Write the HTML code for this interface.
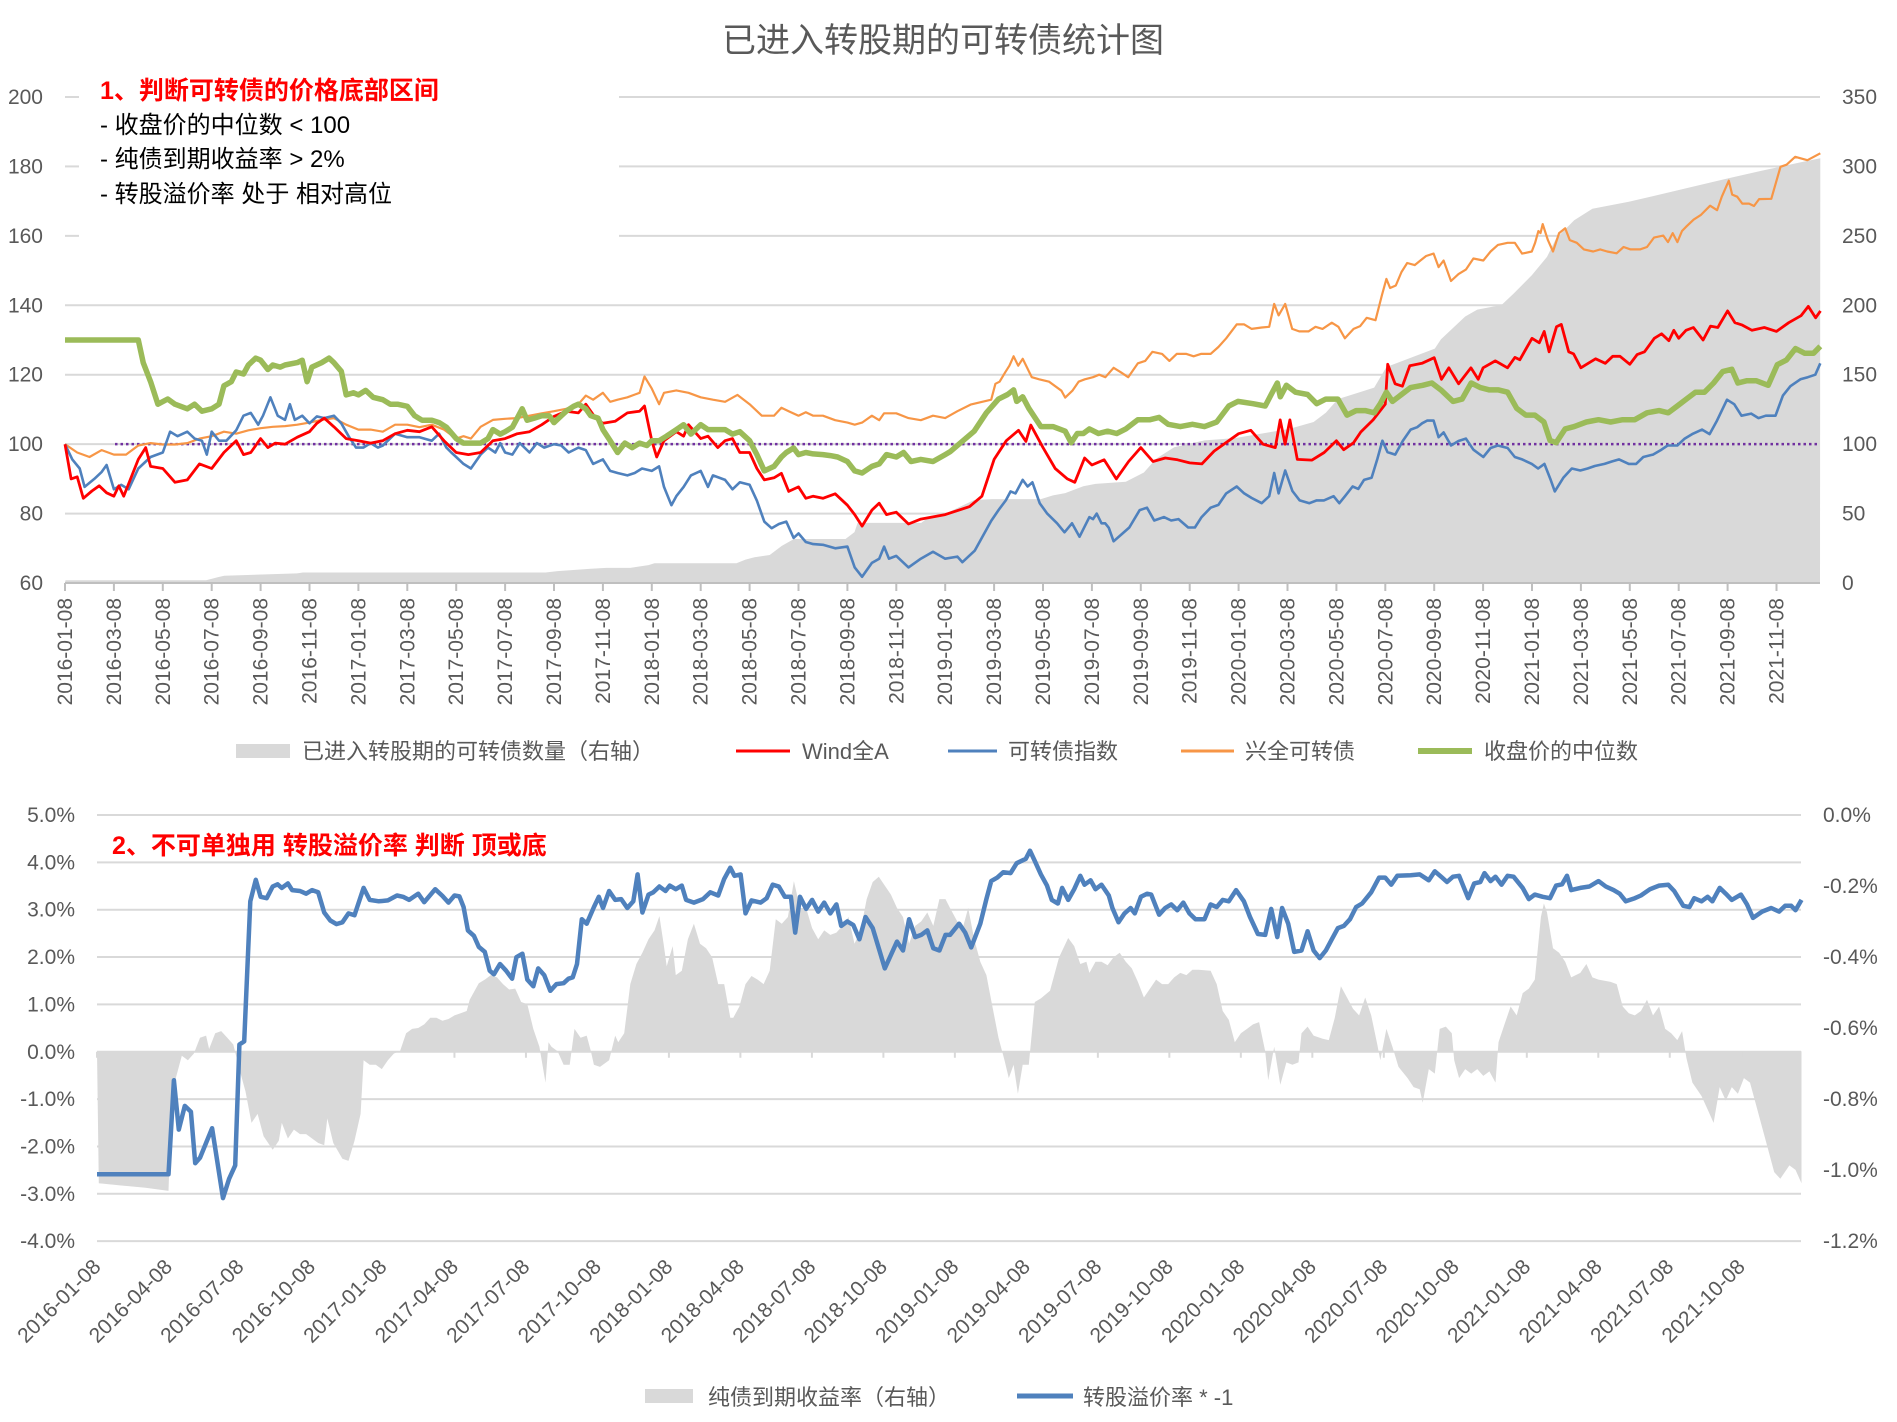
<!DOCTYPE html>
<html><head><meta charset="utf-8">
<style>
html,body{margin:0;padding:0;background:#fff;}
svg{display:block;}
text{font-family:"Liberation Sans","Noto Sans CJK SC",sans-serif;}
</style></head>
<body>
<svg id="s" xmlns="http://www.w3.org/2000/svg" width="1897" height="1422" viewBox="0 0 1897 1422">
<rect width="1897" height="1422" fill="#fff"/>
<g id="g"></g>
</svg>
<script>
const NS="http://www.w3.org/2000/svg";
const G=document.getElementById('g');
function el(t,a,txt){const e=document.createElementNS(NS,t);for(const k in a)e.setAttribute(k,a[k]);if(txt!==undefined)e.textContent=txt;G.appendChild(e);return e;}
const TX=m=>65+m*24.45, TY=v=>583-(v-60)*3.471;
function interp(anch,pm){for(let i=0;i<anch.length-1;i++){const a=anch[i],b=anch[i+1];if(pm<=b[0]||i==anch.length-2){const t=(pm-a[0])/(b[0]-a[0]);return a[1]+t*(b[1]-a[1]);}}}
function pathOf(pts){return pts.map((p,i)=>(i?'L':'M')+p[0].toFixed(1)+' '+p[1].toFixed(1)).join(' ');}
function joinPts(L,R){const lx=L[L.length-1][0];return L.concat(R.filter(p=>p[0]>lx));}

// ===== TOP CHART =====
// gridlines
for(let k=0;k<=7;k++){const y=583-k*69.43;
  if(k==0) continue;
  if(k>=5){el('line',{x1:65,y1:y,x2:79,y2:y,stroke:'#d9d9d9','stroke-width':2});el('line',{x1:619,y1:y,x2:1820,y2:y,stroke:'#d9d9d9','stroke-width':2});}
  else el('line',{x1:65,y1:y,x2:1820,y2:y,stroke:'#d9d9d9','stroke-width':2});
}
// grey area
const ga1=[[108,1265],[340,1265],[360,1258],[370,1255],[490,1250],[500,1248],[900,1248],[920,1245],[975,1240],[1000,1238],[1040,1238],[1070,1232],[1080,1228],[1215,1228],[1230,1220],[1245,1215],[1270,1210],[1290,1190],[1310,1175],[1395,1175],[1410,1160],[1415,1140],[1520,1140],[1530,1130],[1568,1120]].map(p=>[p[0]/1.65,p[1]/2.18]);
const ga2=[[0,1115],[40,1090],[70,1088],[150,1088],[170,1080],[190,1075],[220,1060],[240,1055],[290,1050],[320,1030],[340,1000],[370,975],[420,960],[470,955],[560,935],[600,920],[620,900],[640,870],[700,845],[720,800],[800,760],[810,740],[850,690],[870,675],[910,665],[930,640],[960,600],[985,560],[1000,520],[1030,480],[1060,455],[1120,440],[1200,415],[1280,390],[1340,372],[1400,355],[1436,345]].map(p=>[950+p[0]/1.65,p[1]/2.18]);
let ga=ga1.concat(ga2);ga.push([1820,582.6]);ga.push([65,582.6]);
el('path',{d:pathOf(ga)+' Z',fill:'#d9d9d9'});
// axis line & ticks
el('line',{x1:65,y1:583,x2:1820,y2:583,stroke:'#bfbfbf','stroke-width':2});
const mlab=['01','03','05','07','09','11'];
for(let i=0;i<36;i++){const m=i*2,x=TX(m);const yr=2016+Math.floor(m/12);const lab=yr+'-'+mlab[(m%12)/2]+'-08';
  el('line',{x1:x,y1:583,x2:x,y2:591,stroke:'#bfbfbf','stroke-width':2});
  el('text',{transform:`translate(${x+7},598) rotate(-90)`,'text-anchor':'end','font-size':21,fill:'#595959'},lab);
}
// y labels
for(let k=0;k<=7;k++){const y=583-k*69.43;
  el('text',{x:43,y:y+7,'text-anchor':'end','font-size':21,fill:'#595959'},String(60+k*20));
  el('text',{x:1842,y:y+7,'text-anchor':'start','font-size':21,fill:'#595959'},String(k*50));
}
// purple dotted 100
el('line',{x1:115,y1:TY(100),x2:1820,y2:TY(100),stroke:'#7030a0','stroke-width':2.5,'stroke-dasharray':'2.5 3'});

// orange
const orL=[[0,100],[0.5,97.6],[1,96.3],[1.5,98.3],[2,97],[2.5,97],[3,99.6],[3.5,100.3],[4,99.9],[4.5,99.9],[5,100.3],[5.5,101.6],[6,102.3],[6.5,103.6],[7,103],[7.5,104],[8,104.6],[8.5,105],[9,105.2],[9.5,105.6],[10,106.2],[10.5,107],[11,107.5],[11.5,105.6],[12,104.2],[12.5,104.2],[13,103.6],[13.5,105.6],[14,105.6],[14.5,104.9],[15,105.6],[15.5,104.2],[16,101.6],[16.3,102.3],[16.6,101.6],[17,105],[17.5,107],[18,107.3],[18.5,107.5],[19,108.2],[19.5,108.9],[20,109.5],[20.5,110.2],[21,111.5],[21.3,114],[21.6,112.8],[22,114.8],[22.3,112.2],[22.6,112.8],[23,113.5],[23.5,114.8],[23.7,119.5],[24,116],[24.3,111.5],[24.5,114.8],[25,115.5],[25.5,114.8],[26,113.5],[26.5,112.8],[27,112.2],[27.5,114.2],[28,111.5],[28.5,108.2],[29,108.2],[29.3,110.5],[29.6,109.5],[30,108.2],[30.3,109.2],[30.6,108.2],[31,108.2],[31.5,106.9],[32,106.2],[32.3,105.6],[32.6,106.2],[33,108.2],[33.3,106.9],[33.5,108.9],[34,108.9],[34.5,107.5],[35,106.9],[35.5,108.2],[36,107.5],[36.5,109.5]].map(p=>[TX(p[0]),TY(p[1])]);
const orA=[[37,0],[38,68],[39.6,105],[40,120],[40.3,135],[41.65,190],[44,270],[48,430],[49,473],[50.5,535],[51,553],[53,630],[55.5,720],[58,798],[60,880],[62,960],[63,978],[63.4,995],[63.8,1015],[70.8,1285],[72.6,1335],[73.6,1436]];
const orR=[[37,109.5],[37.5,111.4],[38,112.8],[38.3,117.4],[38.6,118],[39,120.7],[39.3,122.6],[39.6,125.3],[39.8,122.6],[40,124.6],[40.3,119.3],[40.6,118.7],[41,118],[41.5,115.4],[41.65,113.4],[42,115.4],[42.3,118],[42.6,118.7],[43,119.3],[43.3,120],[43.6,119.3],[44,122],[44.3,120.7],[44.6,119.3],[45,123.3],[45.3,124],[45.6,126.6],[46,126],[46.3,124],[46.6,126],[47,126],[47.3,125.3],[47.6,126],[48,126],[48.3,128],[48.6,130.5],[49,134.5],[49.3,134.5],[49.6,133.2],[50,133.6],[50.3,133.8],[50.5,140.4],[50.7,137.1],[51,140.4],[51.3,133.2],[51.6,132.5],[52,132.5],[52.3,133.8],[52.6,133.2],[53,135],[53.3,133.8],[53.6,130.5],[54,133.2],[54.3,134],[54.6,136.4],[55,135.7],[55.3,143],[55.5,147.6],[55.7,145],[56,145.7],[56.3,149.6],[56.6,152.2],[57,151.6],[57.3,152.9],[57.6,154.2],[58,154.9],[58.2,151],[58.4,152.9],[58.7,147],[59,149],[59.3,150.3],[59.6,153.5],[60,152.9],[60.3,155.5],[60.6,157.4],[61,158],[61.3,158],[61.6,154.9],[62,155.5],[62.3,158],[62.6,161.4],[62.8,160.8],[63,163.4],[63.2,158.8],[63.4,155.5],[63.6,160.8],[63.8,162.2],[64,158.8],[64.3,158],[64.6,156.1],[65,155.5],[65.3,156.1],[65.6,155.5],[66,155],[66.3,156.8],[66.6,156.1],[67,156.1],[67.3,156.8],[67.6,159.5],[68,160.1],[68.2,158.2],[68.4,160.8],[68.6,158.2],[68.8,161.4],[69,162.8],[69.3,164.7],[69.6,166],[70,168.7],[70.3,167.4],[70.5,171.3],[70.8,175.9],[71,171.9],[71.3,171.3],[71.6,169.3],[72,169.3],[72.3,168.6],[72.6,170.6],[72.8,170.7],[72.95,179.9],[73.05,180.5],[73.19,182.8],[73.39,181.8],[73.6,183.8]].map(p=>[950+interp(orA,p[0])/1.65,TY(p[1])]);
el('path',{d:pathOf(joinPts(orL,orR)),fill:'none',stroke:'#f79646','stroke-width':2.2,'stroke-linejoin':'round'});

// blue
const blL=[[0,100],[0.3,95.6],[0.6,93],[0.8,87.7],[1.2,90],[1.5,92],[1.7,94],[2,87],[2.3,88.3],[2.6,87],[3,93],[3.5,96.3],[4,97.6],[4.3,103.6],[4.6,102.3],[5,103.6],[5.3,101.6],[5.6,101],[5.8,97],[6,103.6],[6.3,101],[6.6,101],[7,104],[7.3,108.2],[7.6,109],[7.9,105.6],[8.1,108.2],[8.4,113.5],[8.7,108.2],[9,107],[9.2,111.5],[9.4,107],[9.7,108.2],[10,106],[10.3,108],[10.6,107.5],[11,108.2],[11.3,106],[11.6,102.3],[11.9,99],[12.2,99],[12.5,100.3],[12.8,99],[13,99.6],[13.5,103],[14,102],[14.5,102],[15,101],[15.3,103],[15.6,99],[15.8,97.6],[16,96.3],[16.3,94.3],[16.6,93],[17,97],[17.3,99],[17.6,97.6],[17.8,100.3],[18,97.6],[18.3,97],[18.6,100.3],[19,97.6],[19.3,100.3],[19.6,99],[20,100],[20.3,99.6],[20.6,97.6],[21,99],[21.3,98.3],[21.6,94.3],[22,95.6],[22.3,92.3],[22.6,91.7],[23,91],[23.3,91.7],[23.6,93],[24,92.3],[24.3,93.6],[24.5,87.7],[24.8,82.4],[25,85],[25.3,87.7],[25.6,91],[26,92.3],[26.3,87.7],[26.5,91],[27,89.7],[27.3,87],[27.6,89],[28,88.3],[28.3,83.7],[28.6,77.7],[28.9,75.8],[29.2,77],[29.5,77.7],[29.8,73],[30,74.3],[30.3,71.8],[30.6,71.2],[31,71],[31.5,70],[32,70.5],[32.3,64.5],[32.6,61.8],[33,65.8],[33.3,67],[33.5,70.5],[33.7,67],[34,67.8],[34.5,64.5],[35,67],[35.5,69],[36,67],[36.5,67.6]].map(p=>[TX(p[0]),TY(p[1])]);
const blA=[[37,0],[38,68],[39.3,120],[40,148],[42,230],[44,270],[45,313],[47,393],[48,430],[49,473],[50.5,535],[51,553],[53,633],[55.3,705],[56.6,760],[58,798],[60,880],[62,960],[63.1,998],[64,1040],[66,1120],[68,1200],[70,1282],[72,1362],[73.8,1436]];
const blR=[[37,67.4],[37.3,66],[37.6,69.3],[38,77.9],[38.3,81],[38.6,83.8],[38.8,86.4],[39,85.8],[39.3,89.7],[39.5,87.8],[39.7,89],[40,83],[40.3,80],[40.7,77.2],[41,74.6],[41.3,77.2],[41.6,73.3],[42,79],[42.3,78.4],[42.6,80],[43,77.2],[43.3,77.2],[43.6,75.9],[44,72],[44.3,74],[44.6,76],[45,81],[45.3,81.7],[45.6,78],[46,79],[46.3,78],[46.6,78.4],[47,76],[47.3,76],[47.6,79],[48,81.7],[48.3,82.5],[48.6,85.8],[49,87.8],[49.3,85.8],[49.6,84.5],[50,83],[50.3,85],[50.5,91.7],[50.7,85.8],[51,92.4],[51.3,86.5],[51.6,83.8],[52,83],[52.3,83.8],[52.6,83.8],[53,85],[53.3,83],[53.6,85],[54,87.8],[54.3,87.1],[54.6,89.7],[55,90.3],[55.3,95.7],[55.5,101],[55.7,97.7],[56,97],[56.3,101],[56.6,104.2],[57,104.9],[57.3,106],[57.6,106.8],[58,106.8],[58.2,102],[58.4,103.4],[58.7,99.6],[59,100.9],[59.3,101.6],[59.6,98.4],[60,96.3],[60.3,98.9],[60.6,99.6],[61,98.9],[61.3,96.3],[61.6,95.6],[62,94.3],[62.3,93],[62.6,94.3],[62.9,89.7],[63.1,86.4],[63.4,90.3],[63.7,93],[64,92.4],[64.3,93],[64.6,93.7],[65,94.3],[65.3,95],[65.6,95.6],[66,94.3],[66.3,94.3],[66.6,96.3],[67,97],[67.3,98.2],[67.6,99.6],[68,99.6],[68.3,101.6],[68.6,102.9],[69,104.2],[69.3,102.9],[69.6,106.8],[70,112.8],[70.3,111.5],[70.6,108.2],[71,108.8],[71.3,107.5],[71.6,108.2],[72,108.2],[72.3,114],[72.6,116.7],[73,118.7],[73.3,119.3],[73.6,120],[73.8,123.3]].map(p=>[950+interp(blA,p[0])/1.65,TY(p[1])]);
el('path',{d:pathOf(joinPts(blL,blR)),fill:'none',stroke:'#4f81bd','stroke-width':2.6,'stroke-linejoin':'round'});

// red
const rd=[[0,100],[0.25,90],[0.5,90.6],[0.75,84.4],[1.1,86.5],[1.4,88],[1.7,86],[2,85],[2.2,88],[2.4,85],[3,95.6],[3.3,99],[3.5,93.6],[4,93],[4.5,89],[5,89.7],[5.5,94.3],[6,93],[6.5,97.6],[7,101],[7.3,97],[7.6,97.6],[8,101.6],[8.3,99],[8.6,100.3],[9,100],[9.5,102],[10,103.6],[10.3,106],[10.6,107.5],[11,105],[11.5,101.6],[12,101],[12.5,100.3],[13,101],[13.5,103],[14,104],[14.5,103.6],[15,105],[15.5,101],[16,97.6],[16.5,97],[17,97.6],[17.5,101],[18,101.6],[18.5,103],[19,103.6],[19.5,105.6],[20,108],[20.5,109.5],[21,109],[21.3,111.5],[21.7,107.5],[22,106],[22.5,106.6],[23,109],[23.5,109.5],[23.7,111],[24,101],[24.2,96.3],[24.5,101],[25,103.6],[25.3,102.3],[25.5,105.6],[26,101.6],[26.3,102.3],[26.7,99],[27,101],[27.3,101.6],[27.6,97.6],[28,97.6],[28.3,93],[28.6,89.7],[29,90.3],[29.3,91.6],[29.6,86.4],[30,87.7],[30.3,84.4],[30.6,85],[31,84.4],[31.5,85.7],[32,82.4],[32.3,79.7],[32.6,76.4],[33,81],[33.3,83],[33.6,79.7],[34,80.4],[34.5,77],[35,78.4],[36,79.7],[37,82],[37.5,85],
[38,95.6],[38.5,101],[39,104],[39.3,100.8],[39.5,105.5],[40,99],[40.5,93],[41,90],[41.3,89],[41.7,96],[42,94],[42.5,95.5],[43,90],[43.5,95],[44,99],[44.5,95],[45,96],[45.5,95.5],[46,94.6],[46.5,94.3],[47,98],[48,103],[48.5,104],[49,100],[49.5,99],[49.7,107],[49.9,100],[50.1,107],[50.4,95.6],[51,95.4],[51.5,97.6],[52,101],[52.3,98.4],[52.7,100.4],[53,103.5],[53.5,107],[54,111.5],[54.1,123],[54.4,117.4],[54.7,116.7],[55,122.6],[55.5,123.3],[56,124.9],[56.3,118.7],[56.6,122],[57,117.4],[57.5,122],[57.8,118.7],[58,122],[58.5,124],[59,122],[59.3,125],[59.5,124.3],[60,130.5],[60.3,129.2],[60.5,132.5],[60.7,126.6],[61,133.8],[61.2,134.5],[61.5,126.6],[61.7,126],[62,122],[62.3,123.3],[62.6,124.6],[63,123.3],[63.3,125.3],[63.6,125.3],[64,123],[64.3,125.8],[64.6,126.6],[65,130.5],[65.3,131.8],[65.6,129.8],[65.8,132.8],[66,130.5],[66.3,132.8],[66.6,133.6],[67,130],[67.3,134],[67.6,133.6],[68,138.4],[68.3,135],[68.6,134.3],[69,132.8],[69.5,133.6],[70,132.5],[70.5,135],[71,137],[71.3,139.7],[71.6,136.4],[71.8,138.4]].map(p=>[TX(p[0]),TY(p[1])]);
el('path',{d:pathOf(rd),fill:'none',stroke:'#ff0000','stroke-width':2.8,'stroke-linejoin':'round'});

// green
const grL=[[0,130],[3,130],[3.2,123.5],[3.5,118],[3.8,111.5],[4.2,113],[4.5,111.5],[5,110.2],[5.3,111.5],[5.6,109.5],[6,110.2],[6.3,111.5],[6.5,116.8],[6.8,118],[7,120.8],[7.3,120.2],[7.5,122.8],[7.8,124.8],[8,124.2],[8.3,121.5],[8.5,122.8],[8.8,122.2],[9,122.8],[9.5,123.5],[9.7,124.2],[9.9,118],[10.1,122.2],[10.5,123.5],[10.8,124.8],[11,123.5],[11.3,121],[11.5,114.2],[11.8,114.8],[12,114.2],[12.3,115.5],[12.6,113.5],[13,112.8],[13.3,111.5],[13.6,111.5],[14,110.9],[14.3,108.2],[14.6,106.9],[15,106.9],[15.3,106.2],[15.6,104.9],[16,101.6],[16.3,100.3],[16.6,100.3],[17,100.3],[17.3,101.6],[17.5,104.2],[17.8,102.9],[18,103.6],[18.3,104.9],[18.5,107.5],[18.7,110.2],[18.9,106.9],[19.2,107.5],[19.5,108.2],[19.8,108.2],[20,106.2],[20.3,108.2],[20.5,109.5],[20.8,110.9],[21,111.5],[21.3,110.2],[21.5,108.2],[21.8,107.5],[22,104.2],[22.3,101],[22.6,97.6],[22.9,100.3],[23.2,99],[23.5,100.3],[23.8,99.6],[24,101],[24.3,101],[24.6,102.3],[25,104.2],[25.3,105.6],[25.6,102.9],[26,105.6],[26.3,104.2],[26.6,104.2],[27,104.2],[27.3,102.9],[27.6,103.6],[28,101],[28.3,97],[28.6,92.3],[29,93.6],[29.3,96.3],[29.5,97.6],[29.8,98.9],[30,97],[30.3,97.6],[30.6,97.2],[31,97],[31.3,96.7],[31.6,96.3],[32,95],[32.3,92.3],[32.6,91.7],[33,93.6],[33.3,94.3],[33.6,97],[34,96.3],[34.3,97.6],[34.6,95],[35,95.6],[35.5,95],[36,97]].map(p=>[TX(p[0]),TY(p[1])]);
const grR=[[0,985],[40,940],[60,900],[80,870],[95,860],[105,850],[110,875],[120,865],[130,890],[150,930],[170,930],[190,940],[200,965],[210,945],[220,945],[230,935],[245,945],[260,940],[275,945],[290,935],[310,915],[330,915],[345,910],[360,925],[380,930],[400,925],[420,930],[440,920],[460,885],[475,875],[500,880],[520,885],[530,860],[540,835],[545,865],[555,840],[570,855],[590,860],[605,880],[620,870],[640,870],[655,905],[670,895],[685,895],[700,900],[710,880],[720,855],[730,875],[745,860],[760,845],[780,840],[795,835],[810,850],[830,875],[845,870],[860,835],[875,845],[890,850],[905,850],[920,855],[935,890],[950,905],[965,905],[980,920],[990,960],[1000,965],[1015,935],[1030,930],[1050,920],[1070,915],[1090,920],[1110,915],[1130,915],[1150,900],[1170,895],[1185,900],[1200,885],[1215,870],[1230,855],[1245,855],[1260,835],[1275,810],[1290,805],[1300,835],[1315,830],[1330,830],[1350,840],[1365,795],[1380,785],[1395,760],[1410,770],[1425,770],[1436,755]].map(p=>[950+p[0]/1.65,p[1]/2.18]);
el('path',{d:pathOf(joinPts(grL,grR)),fill:'none',stroke:'#9bbb59','stroke-width':5.5,'stroke-linejoin':'round'});

// title & annotations
el('text',{x:943,y:52,'text-anchor':'middle','font-size':34,fill:'#595959'},'已进入转股期的可转债统计图');
el('text',{x:100,y:99,'font-size':25,'font-weight':'bold',fill:'#ff0000'},'1、判断可转债的价格底部区间');
el('text',{x:100,y:133,'font-size':24,fill:'#000'},'- 收盘价的中位数 < 100');
el('text',{x:100,y:167,'font-size':24,fill:'#000'},'- 纯债到期收益率 > 2%');
el('text',{x:100,y:202,'font-size':24,fill:'#000'},'- 转股溢价率 处于 相对高位');

// top legend
el('rect',{x:236,y:744,width:54,height:14,fill:'#d9d9d9'});
el('text',{x:302,y:759,'font-size':22,fill:'#595959'},'已进入转股期的可转债数量（右轴）');
el('line',{x1:736,y1:751,x2:790,y2:751,stroke:'#ff0000','stroke-width':3});
el('text',{x:802,y:759,'font-size':22,fill:'#595959'},'Wind全A');
el('line',{x1:948,y1:751,x2:997,y2:751,stroke:'#4f81bd','stroke-width':3});
el('text',{x:1008,y:759,'font-size':22,fill:'#595959'},'可转债指数');
el('line',{x1:1181,y1:751,x2:1234,y2:751,stroke:'#f79646','stroke-width':3});
el('text',{x:1245,y:759,'font-size':22,fill:'#595959'},'兴全可转债');
el('line',{x1:1418,y1:751,x2:1472,y2:751,stroke:'#9bbb59','stroke-width':6});
el('text',{x:1484,y:759,'font-size':22,fill:'#595959'},'收盘价的中位数');

// ===== BOTTOM CHART =====
const BY=i=>815+i*47.35; // i=0 ->5%
for(let i=0;i<=9;i++){el('line',{x1:97,y1:BY(i),x2:1801,y2:BY(i),stroke:'#d9d9d9','stroke-width':2});}
const Z3=p=>[p[0]/1.65,720+p[1]/2.234], Z4=p=>[950+p[0]/1.65,720+p[1]/2.234];
const gb1=[[160,740],[163,1035],[200,1040],[240,1045],[278,1052],[282,900],[290,800],[300,750],[310,760],[320,745],[330,710],[340,705],[345,735],[355,700],[365,695],[375,710],[385,725],[395,780],[405,830],[415,900],[425,880],[435,930],[450,960],[460,940],[465,900],[475,935],[485,915],[495,925],[505,925],[515,935],[525,945],[535,950],[540,890],[550,945],[565,980],[575,985],[585,940],[595,880],[600,760],[610,770],[620,770],[630,780],[640,760],[650,745],[660,740],[670,700],[680,690],[690,688],[700,680],[710,665],[720,665],[730,672],[740,668],[750,660],[760,655],[770,650],[775,625],[790,588],[800,580],[810,570],[820,575],[830,590],[840,602],[850,600],[860,630],[870,635],[880,690],[890,730],[900,810],[905,720],[910,730],[920,740],[930,770],[940,770],[948,690],[958,710],[968,705],[975,740],[980,770],[990,775],[1005,760],[1015,705],[1020,720],[1030,700],[1040,590],[1050,545],[1060,520],[1070,490],[1080,470],[1088,438],[1095,500],[1100,550],[1110,505],[1115,570],[1125,560],[1135,490],[1145,455],[1155,500],[1165,510],[1175,530],[1185,590],[1195,590],[1205,665],[1210,665],[1220,640],[1230,590],[1240,572],[1250,580],[1260,590],[1270,560],[1280,445],[1290,455],[1300,440],[1310,360],[1320,420],[1330,420],[1340,465],[1350,490],[1360,470],[1370,480],[1380,475],[1390,460],[1400,440],[1410,500],[1420,470],[1430,400],[1440,362],[1450,350],[1460,370],[1470,390],[1480,420],[1490,440],[1500,500],[1510,460],[1520,450],[1530,430],[1540,460],[1550,400],[1560,400]].map(Z3);
const gb2=[[0,420],[10,445],[20,470],[30,420],[40,490],[50,540],[60,570],[70,640],[80,710],[90,760],[97,800],[105,770],[112,835],[120,770],[130,770],[140,630],[150,622],[165,605],[180,530],[195,487],[205,505],[215,545],[225,540],[230,565],[240,540],[250,540],[260,548],[270,530],[280,520],[290,540],[300,555],[310,585],[320,620],[330,600],[340,580],[350,590],[360,590],[370,575],[380,565],[390,570],[400,558],[410,558],[430,560],[440,590],[450,650],[460,670],[470,720],[480,700],[490,690],[500,680],[510,675],[520,740],[525,805],[535,730],[545,815],[555,765],[565,770],[575,765],[580,700],[590,685],[600,705],[615,712],[625,715],[635,665],[645,595],[655,620],[665,645],[675,660],[685,620],[695,660],[705,725],[710,760],[720,690],[730,730],[740,775],[755,800],[765,820],[775,825],[780,855],[790,780],[800,790],[808,690],[818,685],[828,700],[832,760],[840,800],[850,780],[860,790],[870,780],[880,795],[890,785],[900,810],[905,720],[915,680],[925,640],[935,660],[945,610],[955,600],[965,580],[975,440],[980,410],[985,430],[995,510],[1005,520],[1015,540],[1025,575],[1040,565],[1050,545],[1060,575],[1070,580],[1090,585],[1100,590],[1110,640],[1120,655],[1130,660],[1140,650],[1150,625],[1160,660],[1170,640],[1180,690],[1190,700],[1200,715],[1208,695],[1215,755],[1225,810],[1240,840],[1250,870],[1260,900],[1270,820],[1280,850],[1290,820],[1300,835],[1310,800],[1320,810],[1330,860],[1340,910],[1350,960],[1360,1010],[1370,1025],[1385,995],[1395,1005],[1405,1035],[1405,740]].map(Z4);
el('path',{d:pathOf(gb1.concat(gb2))+' Z',fill:'#d9d9d9'});
// ticks at zero line
for(let i=0;i<24;i++){const x=97+i*3*23.83;el('line',{x1:x,y1:BY(5),x2:x,y2:BY(5)+6,stroke:'#d9d9d9','stroke-width':2});}
// blue line bottom
const bb1=[[160,1015],[278,1015],[287,805],[295,915],[305,862],[315,875],[322,990],[330,978],[350,912],[368,1068],[378,1025],[388,995],[395,725],[403,718],[413,405],[422,357],[430,395],[440,398],[450,372],[458,367],[465,375],[475,365],[482,380],[495,382],[505,388],[515,380],[525,385],[535,430],[545,448],[555,456],[565,452],[575,432],[585,436],[600,375],[610,402],[625,405],[640,403],[655,392],[665,395],[675,402],[690,388],[700,407],[718,378],[730,393],[740,408],[750,392],[758,394],[765,418],[772,470],[782,482],[790,507],[800,518],[808,560],[815,568],[825,545],[835,560],[845,578],[852,530],[862,522],[870,580],[880,595],[888,555],[898,570],[908,605],[918,590],[930,588],[938,578],[945,575],[952,545],[960,445],[968,455],[980,418],[988,395],[995,420],[1005,382],[1015,402],[1025,400],[1035,420],[1045,405],[1052,345],[1060,430],[1070,390],[1078,385],[1088,372],[1098,382],[1105,370],[1115,378],[1125,370],[1132,402],[1145,408],[1160,400],[1172,385],[1185,392],[1195,355],[1205,330],[1212,348],[1222,345],[1230,432],[1240,403],[1255,408],[1265,398],[1275,368],[1285,372],[1295,395],[1305,395],[1312,475],[1320,395],[1330,422],[1340,402],[1350,428],[1360,408],[1370,432],[1380,412],[1388,460],[1398,450],[1408,458],[1418,490],[1428,440],[1440,465],[1450,510],[1460,555],[1470,525],[1480,495],[1490,515],[1500,445],[1510,485],[1520,480],[1530,470],[1540,510],[1550,515],[1560,480]].map(Z3);
const bb2=[[0,480],[15,455],[25,475],[35,508],[50,455],[60,400],[68,360],[78,352],[88,340],[100,342],[110,320],[125,310],[132,292],[140,315],[150,345],[160,370],[168,402],[178,410],[185,375],[195,402],[205,378],[215,348],[222,368],[232,358],[240,378],[250,368],[262,392],[268,420],[278,452],[288,432],[298,420],[305,432],[315,395],[325,388],[332,390],[345,435],[355,420],[365,412],[375,425],[385,408],[395,432],[405,445],[420,445],[430,412],[440,418],[450,402],[460,405],[472,380],[485,405],[495,440],[508,478],[520,480],[530,422],[540,485],[548,420],[558,455],[568,518],[580,515],[590,472],[600,515],[610,532],[620,515],[630,490],[640,465],[650,460],[660,445],[670,418],[680,410],[695,385],[708,352],[718,352],[728,368],[738,348],[760,347],[775,345],[790,358],[800,338],[812,352],[820,362],[830,350],[840,348],[855,398],[865,365],[875,362],[882,342],[892,360],[900,350],[910,368],[920,348],[930,350],[945,375],[955,400],[965,390],[978,395],[990,398],[1000,370],[1010,367],[1018,348],[1025,380],[1040,375],[1055,372],[1070,360],[1082,372],[1095,380],[1105,388],[1115,405],[1130,398],[1140,392],[1155,378],[1170,370],[1185,368],[1195,382],[1210,415],[1220,418],[1228,398],[1240,405],[1250,395],[1258,405],[1270,375],[1280,388],[1290,402],[1305,390],[1315,412],[1325,442],[1340,428],[1355,420],[1368,428],[1378,415],[1388,415],[1395,425],[1405,402]].map(Z4);
el('path',{d:pathOf(bb1.concat(bb2)),fill:'none',stroke:'#4f81bd','stroke-width':4.5,'stroke-linejoin':'round'});
// bottom axis labels
const lp=['5.0%','4.0%','3.0%','2.0%','1.0%','0.0%','-1.0%','-2.0%','-3.0%','-4.0%'];
for(let i=0;i<10;i++) el('text',{x:75,y:BY(i)+7,'text-anchor':'end','font-size':21,fill:'#595959'},lp[i]);
const rp=['0.0%','-0.2%','-0.4%','-0.6%','-0.8%','-1.0%','-1.2%'];
for(let i=0;i<7;i++){const y=815+i*(426.2/6);el('text',{x:1823,y:y+7,'font-size':21,fill:'#595959'},rp[i]);}
const ql=['01','04','07','10'];
for(let i=0;i<24;i++){const m=i*3,x=97+m*23.83;const lab=(2016+Math.floor(m/12))+'-'+ql[(m%12)/3]+'-08';
  el('text',{transform:`translate(${x+5},1268) rotate(-45)`,'text-anchor':'end','font-size':21,fill:'#595959'},lab);}
el('text',{x:112,y:854,'font-size':25,'font-weight':'bold',fill:'#ff0000'},'2、不可单独用 转股溢价率 判断 顶或底');
// bottom legend
el('rect',{x:645,y:1389,width:48,height:14,fill:'#d9d9d9'});
el('text',{x:708,y:1405,'font-size':22,fill:'#595959'},'纯债到期收益率（右轴）');
el('line',{x1:1017,y1:1396,x2:1073,y2:1396,stroke:'#4f81bd','stroke-width':5});
el('text',{x:1083,y:1405,'font-size':22,fill:'#595959'},'转股溢价率 * -1');
</script>
</body></html>
